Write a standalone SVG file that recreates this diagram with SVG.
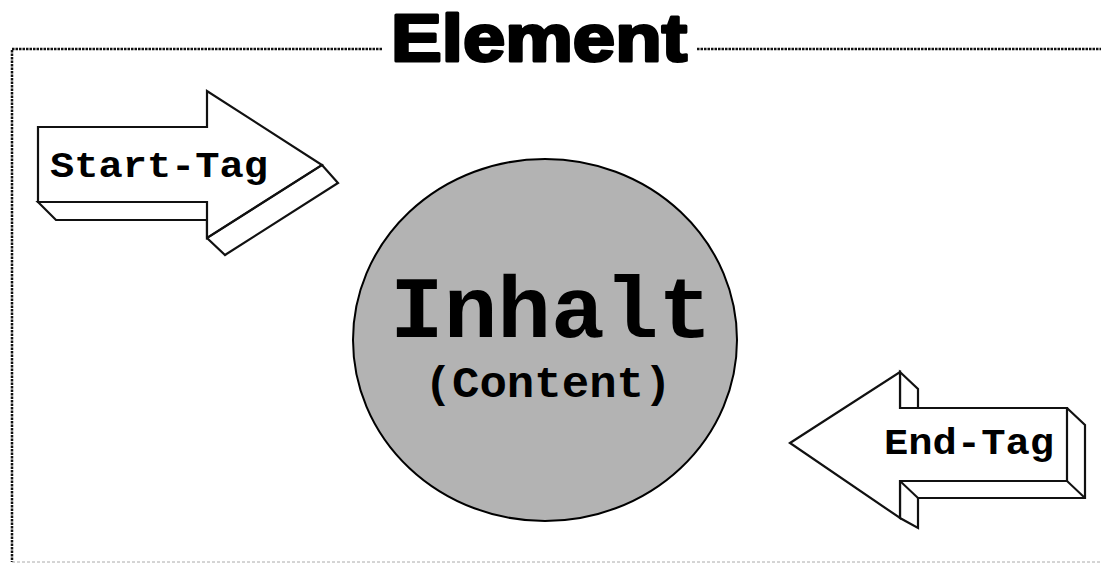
<svg xmlns="http://www.w3.org/2000/svg" width="1101" height="563" viewBox="0 0 1101 563">
<style>
.frame{fill:none;stroke:#111;stroke-width:2.5;stroke-dasharray:2.5 1}
.shape{fill:#fff;stroke:#111;stroke-width:2.2;stroke-linejoin:miter}
.mono{font-family:"Liberation Mono","Courier New",monospace;font-weight:bold;fill:#000}
</style>
<rect width="1101" height="563" fill="#fff"/>
<g id="frame">
<polyline class="frame" points="382,49 12,49 12,562"/>
<line class="frame" x1="697" y1="49" x2="1101" y2="49"/>
<line x1="12" y1="562" x2="1101" y2="562" stroke="#aaa" stroke-width="1" stroke-dasharray="3 2"/>
<text x="391" y="61" font-family="Liberation Sans, Arial, sans-serif" font-weight="bold" font-size="67" textLength="296" lengthAdjust="spacingAndGlyphs" stroke="#000" stroke-width="3" stroke-linejoin="round">Element</text>
</g>
<g id="start-tag">
<polygon class="shape" points="38,202 56,220 207,220 207,238 225,255 338,183 322,165 207,202"/>
<polygon class="shape" points="38,127 207,127 207,91 322,165 207,238 207,202 38,202"/>
<line x1="207" y1="238" x2="322" y2="165" stroke="#111" stroke-width="2"/>
<text class="mono" x="50" y="177" font-size="37" textLength="218" lengthAdjust="spacingAndGlyphs">Start-Tag</text>
</g>
<g id="content">
<ellipse cx="545" cy="340" rx="192" ry="181" fill="#b3b3b3" stroke="#000" stroke-width="2"/>
<text class="mono" x="551" y="337" font-size="88" text-anchor="middle" textLength="322" lengthAdjust="spacingAndGlyphs">Inhalt</text>
<text class="mono" x="548" y="397" font-size="44" text-anchor="middle" textLength="247" lengthAdjust="spacingAndGlyphs">(Content)</text>
</g>
<g id="end-tag">
<polygon class="shape" points="900,372 918,389 918,408 1067,408 1085,425 1085,498 918,498 918,528 900,518 900,481"/>
<line x1="1067" y1="481" x2="1085" y2="498" stroke="#111" stroke-width="2"/>
<line x1="900" y1="481" x2="918" y2="498" stroke="#111" stroke-width="2"/>
<polygon class="shape" points="790,443 900,372 900,408 1067,408 1067,481 900,481 900,518"/>
<text class="mono" x="884" y="454" font-size="37" textLength="170" lengthAdjust="spacingAndGlyphs">End-Tag</text>
</g>
</svg>
